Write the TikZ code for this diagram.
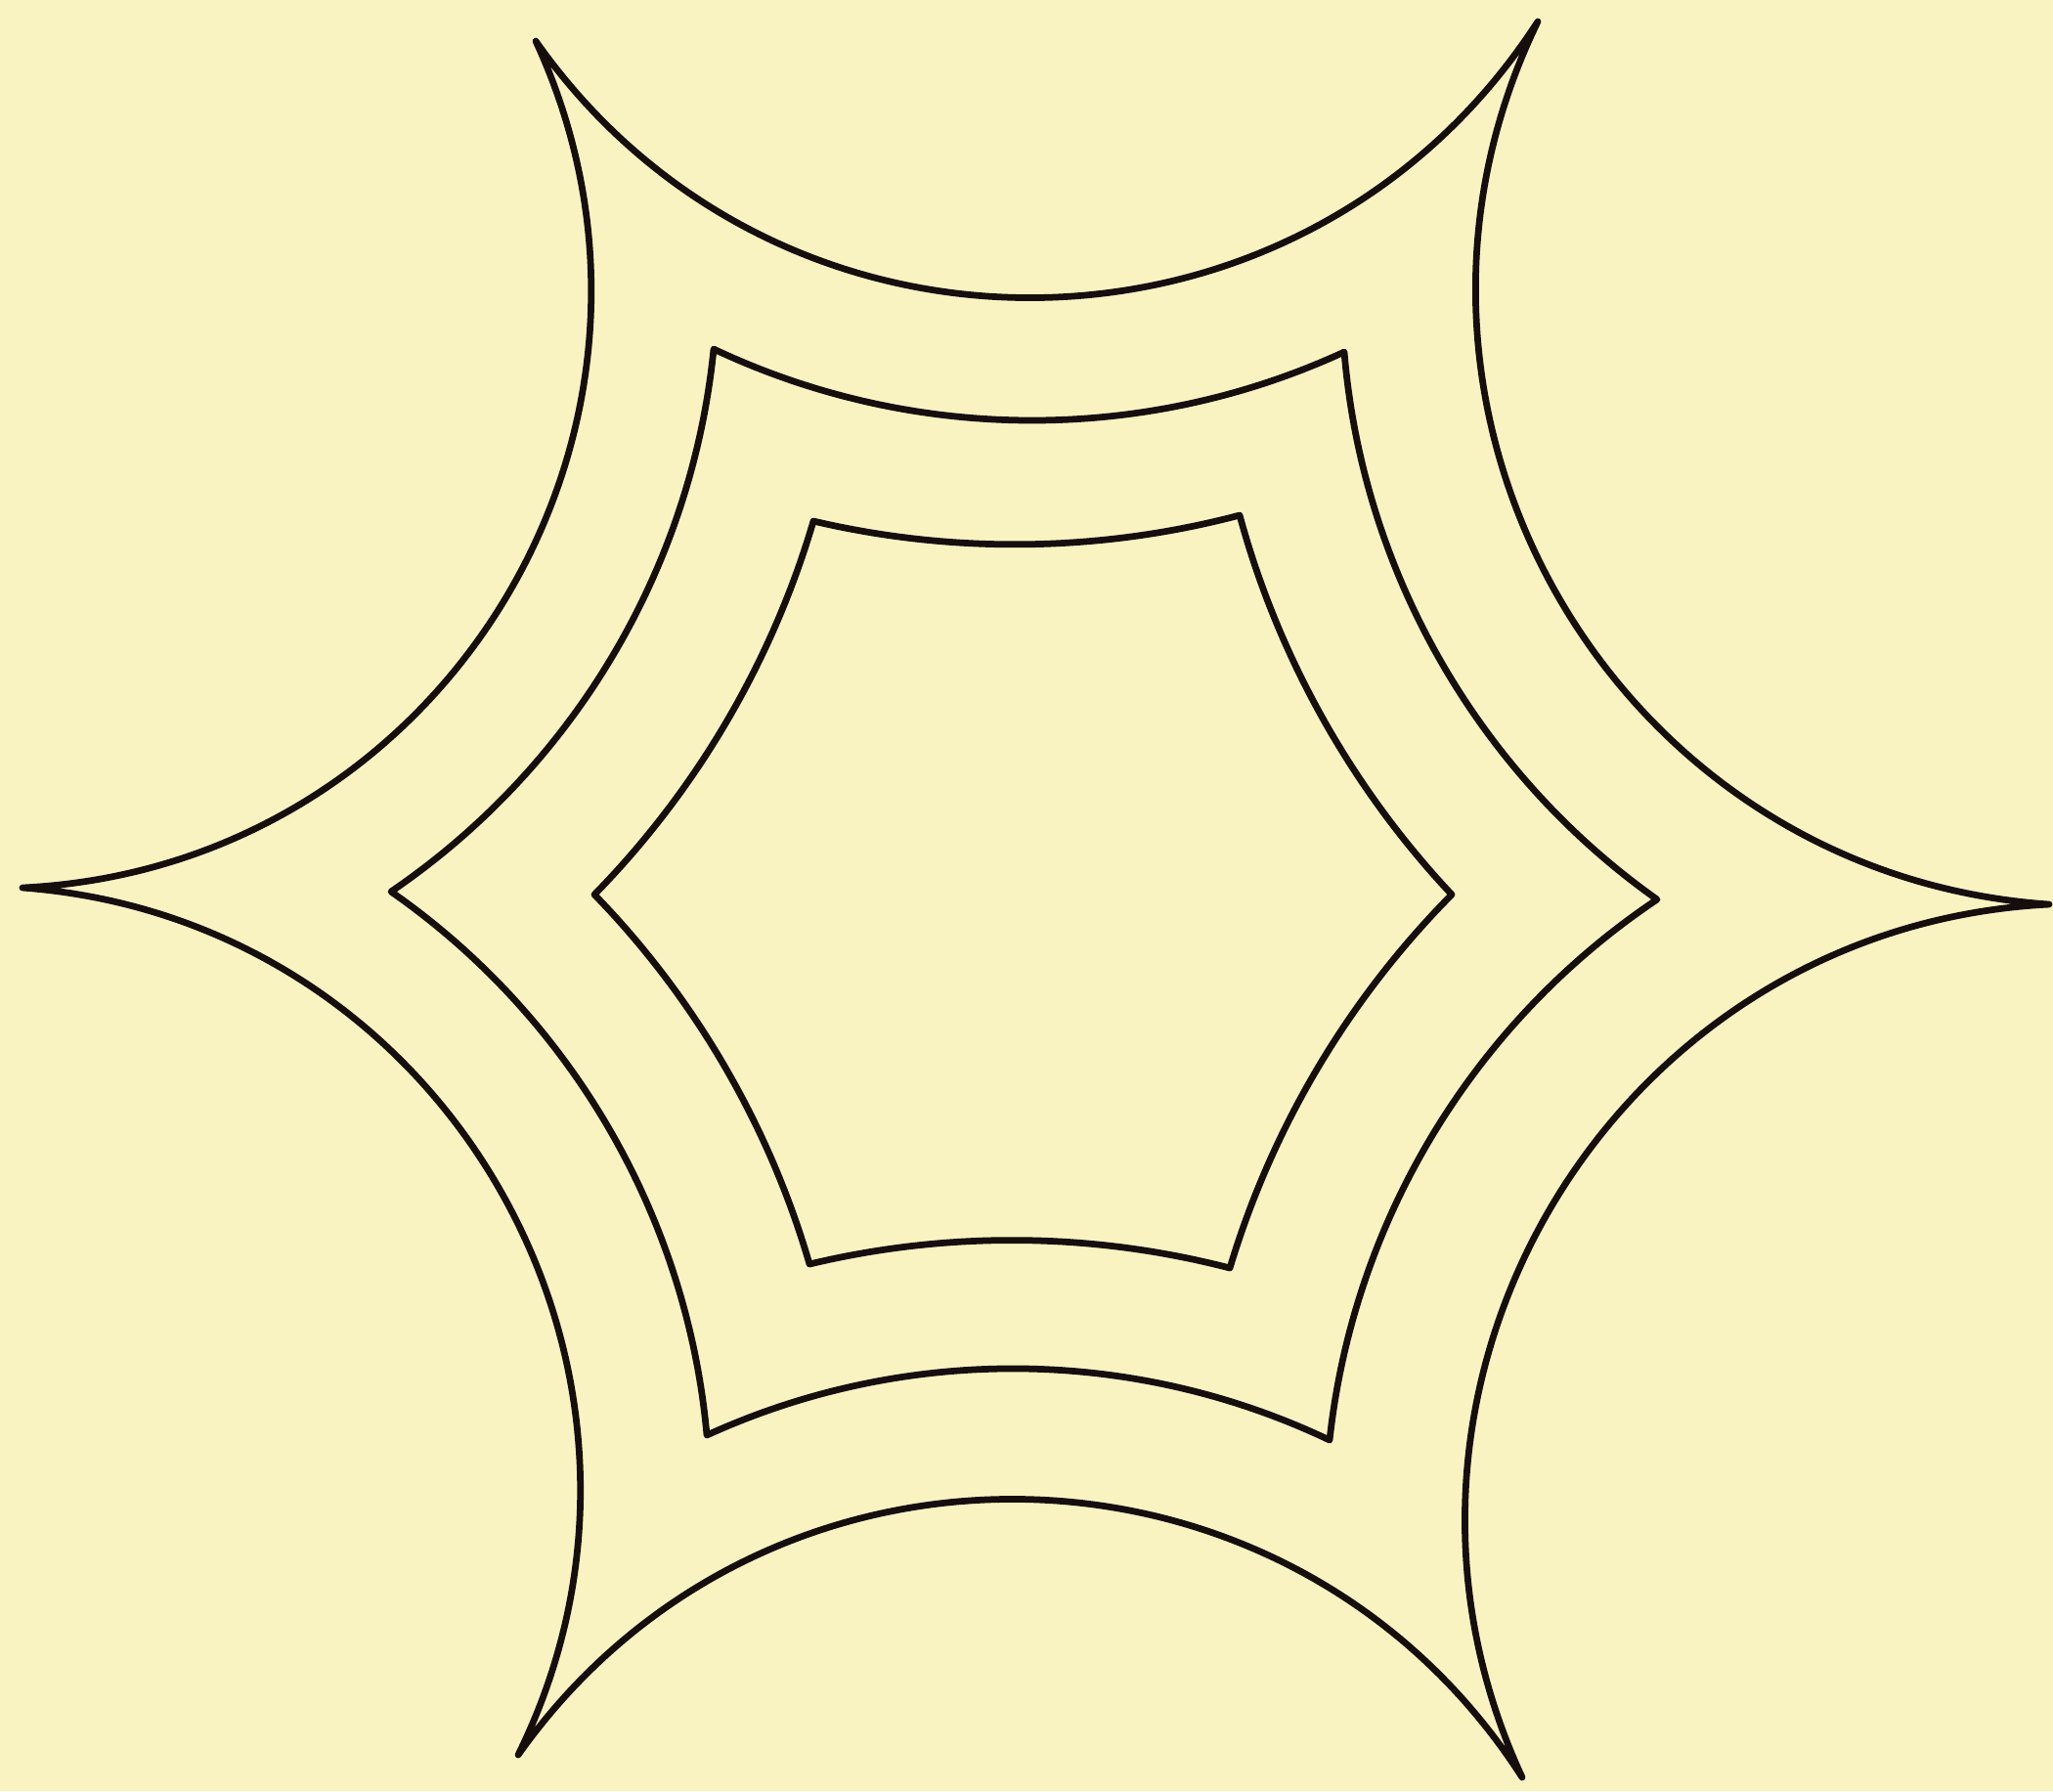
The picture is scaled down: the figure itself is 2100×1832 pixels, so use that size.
\documentclass[tikz,border=0pt]{standalone}
\definecolor{paper}{RGB}{249,243,194}
\definecolor{ink}{RGB}{22,14,12}
\begin{document}
\begin{tikzpicture}[x=0.2pt,y=-0.2pt,
  curve/.style={draw=ink,line width=1.35pt,line join=round,line cap=round},
  arcO/.style={bend right=56,looseness=1.092},
  arcM/.style={bend right=25,looseness=0.893},
  arcI/.style={bend right=14,looseness=0.864}]
\fill[paper] (0,0) rectangle (2100,1832);
\useasboundingbox (0,0) rectangle (2100,1832);
% outer
\coordinate (o1) at (548,42);
\coordinate (o2) at (1573,22);
\coordinate (o3) at (2096,925);
\coordinate (o4) at (1557,1818);
\coordinate (o5) at (530,1795);
\coordinate (o6) at (23,908);
% middle
\coordinate (m1) at (730,357);
\coordinate (m2) at (1375,360);
\coordinate (m3) at (1695,920);
\coordinate (m4) at (1360,1473);
\coordinate (m5) at (723,1468);
\coordinate (m6) at (400,912);
% inner
\coordinate (i1) at (832,533);
\coordinate (i2) at (1268,527);
\coordinate (i3) at (1485,915);
\coordinate (i4) at (1258,1297);
\coordinate (i5) at (828,1293);
\coordinate (i6) at (608,915);
\path[curve] (o1) to[arcO] (o2) to[arcO] (o3) to[arcO] (o4)
  to[arcO] (o5) to[arcO] (o6) to[arcO] (o1) -- cycle;
\path[curve] (m1) to[arcM] (m2) to[arcM] (m3) to[arcM] (m4)
  to[arcM] (m5) to[arcM] (m6) to[arcM] (m1) -- cycle;
\path[curve] (i1) to[arcI] (i2) to[arcI] (i3) to[arcI] (i4)
  to[arcI] (i5) to[arcI] (i6) to[arcI] (i1) -- cycle;
\end{tikzpicture}
\end{document}
